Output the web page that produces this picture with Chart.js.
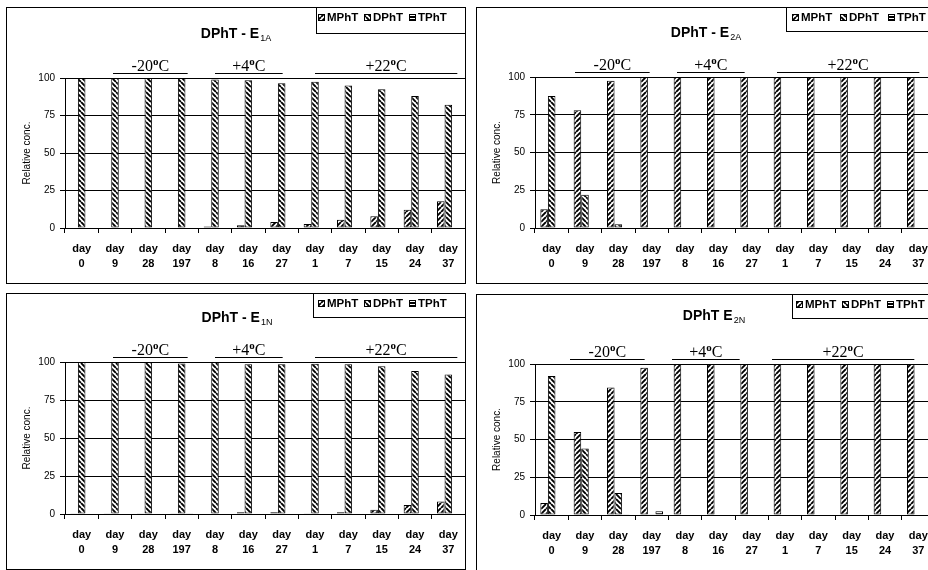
<!DOCTYPE html>
<html><head><meta charset="utf-8">
<script src="https://cdn.jsdelivr.net/npm/chart.js@4"></script>
<style>
html,body{margin:0;padding:0;background:#fff;overflow:hidden;width:928px;height:570px;position:relative;}
.panel{position:absolute;}
canvas{display:block;}
</style></head><body>
<div class="panel" style="left:6px;top:7px"><canvas id="c0" width="460" height="277"></canvas></div>
<div class="panel" style="left:476px;top:7px"><canvas id="c1" width="460" height="277"></canvas></div>
<div class="panel" style="left:6px;top:293px"><canvas id="c2" width="460" height="277"></canvas></div>
<div class="panel" style="left:476px;top:294px"><canvas id="c3" width="460" height="277"></canvas></div>
<script>
// ---------- data ----------
const DAY_NUMBERS = ['0','9','28','197','8','16','27','1','7','15','24','37'];
const SERIES_NAMES = ['MPhT','DPhT','TPhT'];
const Y_TICKS = [0,25,50,75,100];
const TEMP_LABELS = ['-20','+4','+22'];
const TEMP_FIRST = [1,4,7];
const TEMP_LAST = [3,6,11];

const E1A_MPhT = [0,0,0,0,1,1.8,4,2.7,5.5,7.8,12.2,17.8];
const E1A_DPhT = [100,100,100,100,99,98.5,96.5,97.5,95,92.5,88,82.2];
const E1A_TPhT = [0,0,0,0,0,0,0,0,0,0,0,0];

const E2A_MPhT = [12.5,78,97.5,100,100,100,100,100,100,100,100,100];
const E2A_DPhT = [87.5,22,2.5,0,0,0,0,0,0,0,0,0];
const E2A_TPhT = [0,0,0,0,0,0,0,0,0,0,0,0];

const E1N_MPhT = [0.5,0.5,0.5,0.5,0,1.2,1.2,0.5,1.2,2.8,5.9,8.3];
const E1N_DPhT = [100,100,100,99,100,98.5,98.5,98.8,98.5,97.2,94.1,91.7];
const E1N_TPhT = [0,0,0,0.5,0,0,0,0,0,0,0,0];

const E2N_MPhT = [8,55,84.5,97.5,100,100,100,100,100,100,100,100];
const E2N_DPhT = [92,44,14.5,0.5,0,0,0,0,0,0,0,0];
const E2N_TPhT = [0,0,0.5,2.5,0,0,0,0,0,0,0,0];

// ---------- styling ----------
const SANS = '"Liberation Sans", Arial, sans-serif';
const SERIF = '"Liberation Serif", "Times New Roman", serif';
const SEG_START = [-2,0,0];
const SEG_END = [6,1,9];

function hatch(kind){
  const s = kind==='horiz' ? 3 : 5;
  const c=document.createElement('canvas'); c.width=s; c.height=s;
  const g=c.getContext('2d');
  g.fillStyle='#fff'; g.fillRect(0,0,s,s);
  g.strokeStyle='#000'; g.lineWidth=1.9;
  if(kind==='horiz'){ g.fillStyle='#000'; g.fillRect(0,0,s,2); }
  else {
    g.beginPath();
    for(let k=-1;k<=1;k++){
      if(kind==='back'){ g.moveTo(k*s,0); g.lineTo(k*s+s,s); }
      else { g.moveTo(k*s+s,0); g.lineTo(k*s,s); }
    }
    g.stroke();
  }
  return g.createPattern(c,'repeat');
}
const PATTERNS = [hatch('fwd'), hatch('back'), hatch('horiz')];

const decoPlugin = {
  id:'deco',
  afterDraw(chart, args, o){
    const ctx=chart.ctx, ca=chart.chartArea, xs=chart.scales.x;
    const W=chart.width, H=chart.height;
    ctx.save();
    ctx.strokeStyle='#000'; ctx.lineWidth=1; ctx.fillStyle='#000';
    ctx.strokeRect(0.5,0.5,W-1,H-1);
    // title
    ctx.textAlign='left'; ctx.textBaseline='alphabetic';
    ctx.font='bold 14px '+SANS;
    const wMain=ctx.measureText(o.title).width;
    ctx.font='9px '+SANS;
    const wSub=ctx.measureText(o.sub).width;
    const tx=o.titleX-(wMain+wSub+1)/2;
    ctx.font='bold 14px '+SANS; ctx.fillText(o.title, tx, o.titleY+5);
    ctx.font='9px '+SANS; ctx.fillText(o.sub, tx+wMain+1, o.titleY+8);
    // y title
    ctx.save();
    ctx.translate(21,(ca.top+ca.bottom)/2); ctx.rotate(-Math.PI/2);
    ctx.textAlign='center'; ctx.textBaseline='middle';
    ctx.font='10px '+SANS; ctx.fillText('Relative conc.',0,0);
    ctx.restore();
    // temperature groups
    const ly=Math.round(ca.top-5)+0.5;
    for(let g=0; g<TEMP_LABELS.length; g++){
      const x0=xs.getPixelForValue(TEMP_FIRST[g])+SEG_START[g]+o.shift;
      const x1=xs.getPixelForValue(TEMP_LAST[g])+SEG_END[g]+o.shift;
      ctx.beginPath(); ctx.moveTo(x0,ly); ctx.lineTo(x1,ly); ctx.stroke();
      ctx.font='16px '+SERIF; const wn=ctx.measureText(TEMP_LABELS[g]).width; const wc=ctx.measureText('C').width;
      ctx.font='bold 11px '+SERIF; const wo=ctx.measureText('o').width;
      let x=(x0+x1)/2-(wn+wo+wc)/2; const by=ly-3;
      ctx.textAlign='left';
      ctx.font='16px '+SERIF; ctx.fillText(TEMP_LABELS[g],x,by); x+=wn;
      ctx.font='bold 11px '+SERIF; ctx.fillText('o',x,by-6); x+=wo;
      ctx.font='16px '+SERIF; ctx.fillText('C',x,by);
    }
    // legend box
    ctx.strokeRect(o.legendX+0.5,0.5,W-o.legendX-1,o.legendH);
    ctx.font='bold 11.5px '+SANS; ctx.textBaseline='middle'; ctx.textAlign='left';
    for(let i=0;i<SERIES_NAMES.length;i++){
      const sx=o.legendItems[i], sy=o.legendY-3;
      ctx.fillStyle=PATTERNS[i]; ctx.fillRect(sx,sy,6,6);
      ctx.strokeRect(sx+0.5,sy+0.5,6,6);
      ctx.fillStyle='#000';
      ctx.fillText(SERIES_NAMES[i], sx+9, o.legendY+0.5);
    }
    ctx.restore();
  }
};

function makeChart(id, series, o){
  const labels = DAY_NUMBERS.map(d=>['day', d]);
  new Chart(document.getElementById(id), {
    type:'bar',
    data:{ labels, datasets: series.map((vals,i)=>({
      label: SERIES_NAMES[i], data: vals,
      backgroundColor: PATTERNS[i], borderColor:'#000', borderWidth:1, borderSkipped:false,
      categoryPercentage:0.68, barPercentage:1
    }))},
    options:{
      responsive:false, animation:false, devicePixelRatio:1,
      layout:{ padding:{ top:o.padTop, right:1, left:0, bottom:0 } },
      plugins:{ legend:{display:false}, tooltip:{enabled:false}, title:{display:false}, deco:o },
      scales:{
        x:{
          afterFit(s){ s.height = 277 - 221; },
          grid:{ drawOnChartArea:false, drawTicks:true, tickLength:5, color:'#000', lineWidth:1 },
          border:{ display:true, color:'#000', width:1 },
          ticks:{ color:'#000', font:{ family:SANS, size:11, weight:'bold', lineHeight:1.4 }, padding:8, maxRotation:0, autoSkip:false }
        },
        y:{
          min:0, max:100,
          afterFit(s){ s.width = 59; },
          afterBuildTicks(s){ s.ticks = Y_TICKS.map(v=>({value:v})); },
          grid:{ drawOnChartArea:true, drawTicks:true, tickLength:5, color:'#000', lineWidth:1 },
          border:{ display:true, color:'#000', width:1 },
          ticks:{ color:'#000', font:{ family:SANS, size:10 }, padding:5 }
        }
      }
    },
    plugins:[decoPlugin]
  });
}

makeChart('c0',[E1A_MPhT,E1A_DPhT,E1A_TPhT],{title:'DPhT - E',sub:'1A',titleX:230,titleY:26,padTop:71,shift:0,legendX:310,legendH:26,legendY:10,legendItems:[312,358,403]});
makeChart('c1',[E2A_MPhT,E2A_DPhT,E2A_TPhT],{title:'DPhT - E',sub:'2A',titleX:230,titleY:25,padTop:70,shift:-8,legendX:310,legendH:24,legendY:10,legendItems:[316,364,412]});
makeChart('c2',[E1N_MPhT,E1N_DPhT,E1N_TPhT],{title:'DPhT - E',sub:'1N',titleX:231,titleY:24,padTop:69,shift:0,legendX:307,legendH:24,legendY:10,legendItems:[312,358,403]});
makeChart('c3',[E2N_MPhT,E2N_DPhT,E2N_TPhT],{title:'DPhT E',sub:'2N',titleX:238,titleY:21,padTop:70,shift:-13,legendX:316,legendH:24,legendY:10,legendItems:[320,366,411]});
</script>
</body></html>
